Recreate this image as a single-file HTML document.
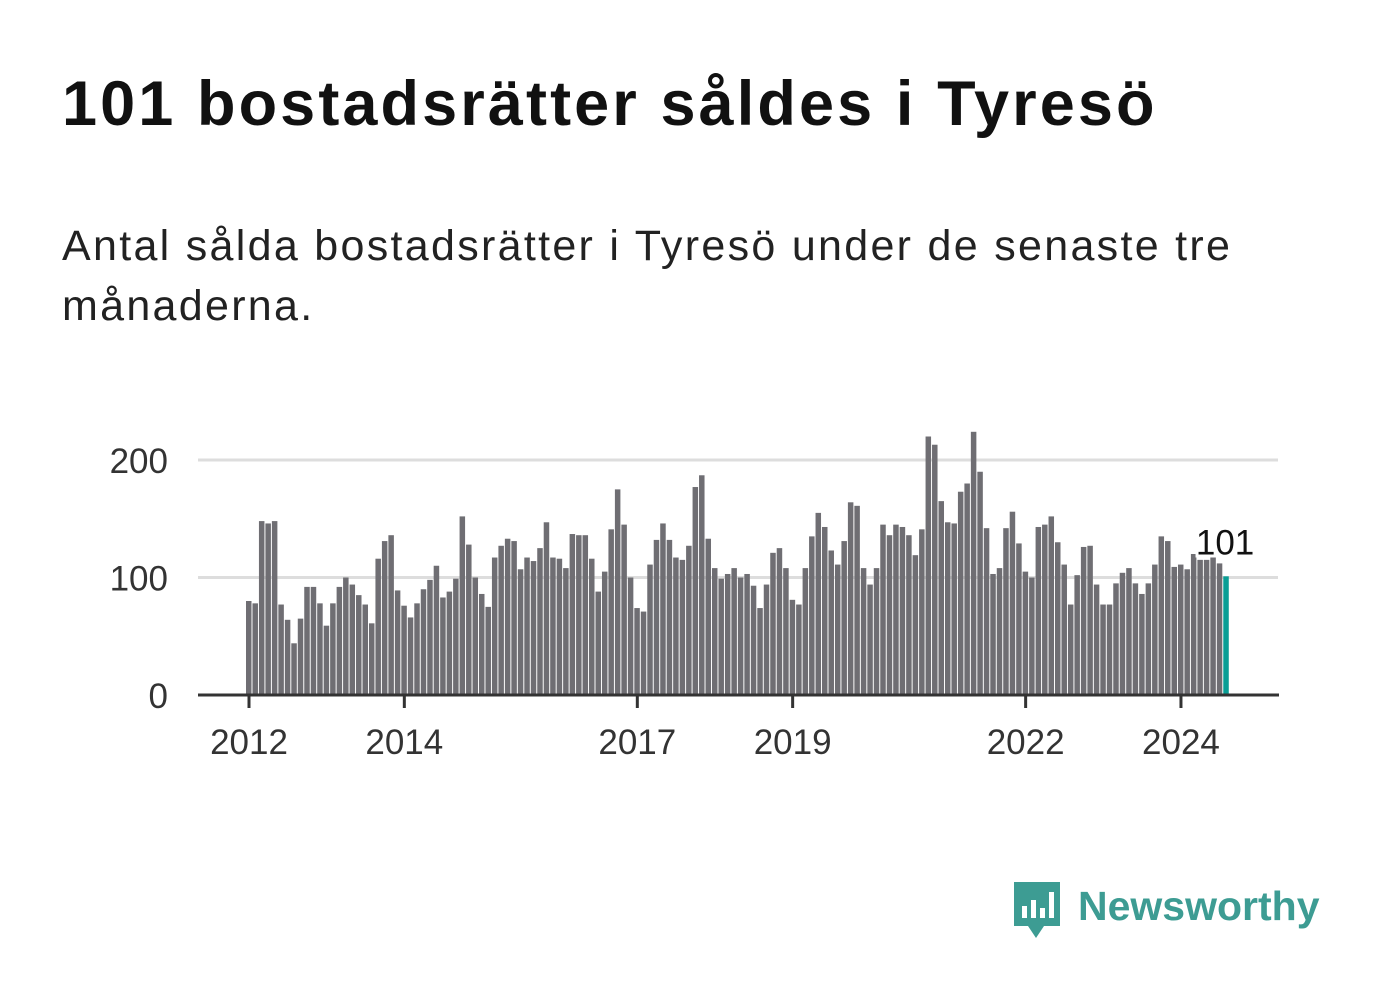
<!DOCTYPE html>
<html><head><meta charset="utf-8"><style>
body{margin:0;width:1382px;height:999px;background:#fff;font-family:"Liberation Sans","DejaVu Sans",sans-serif;overflow:hidden;position:relative}
h1{position:absolute;left:62px;top:68px;margin:0;font-size:63px;font-weight:bold;color:#111;letter-spacing:3.1px;white-space:nowrap}
p{position:absolute;left:62px;top:216px;margin:0;font-size:43px;line-height:60px;color:#222;width:1260px;letter-spacing:2.3px}
</style></head><body>
<h1>101 bostadsrätter såldes i Tyresö</h1>
<p>Antal sålda bostadsrätter i Tyresö under de senaste tre månaderna.</p>
<svg id="chart" width="1382" height="999" style="position:absolute;left:0;top:0"></svg>
<div style="position:absolute;left:1012px;top:880px;display:flex;align-items:center">
<svg width="50" height="60" viewBox="0 0 50 60"><path d="M2 2h46v44H32l-8 12-8-12H2z" fill="#3d9c93"/><rect x="10" y="26" width="5" height="12" fill="#fff"/><rect x="19" y="20" width="5" height="18" fill="#fff"/><rect x="28" y="28" width="5" height="10" fill="#fff"/><rect x="37" y="12" width="5" height="26" fill="#fff"/></svg>
<span style="font-size:41px;font-weight:bold;color:#3d9c93;margin-left:16px;margin-top:-8px">Newsworthy</span></div>
<script>
const values=[80,78,148,146,148,77,64,44,65,92,92,78,
59,78,92,100,94,85,77,61,116,131,136,89,
76,66,78,90,98,110,83,88,99,152,128,100,
86,75,117,127,133,131,107,117,114,125,147,117,
116,108,137,136,136,116,88,105,141,175,145,100,
74,71,111,132,146,132,117,115,127,177,187,133,
108,99,103,108,100,103,93,74,94,121,125,108,
81,77,108,135,155,143,123,111,131,164,161,108,
94,108,145,136,145,143,136,119,141,220,213,165,
147,146,173,180,224,190,142,103,108,142,156,129,
105,100,143,145,152,130,111,77,102,126,127,94,
77,77,95,104,108,95,86,95,111,135,131,109,
111,107,120,115,115,119,112,101];
const yTicks=[0,100,200];
const xTickLabels=["2012","2014","2017","2019","2022","2024"];
const xTickIndex=[0,24,60,84,120,144];
const NS="http://www.w3.org/2000/svg",svg=document.getElementById('chart');
const x=i=>249+i*6.472, y=v=>695-v*1.175;
function mk(t,a){const e=document.createElementNS(NS,t);for(const k in a)e.setAttribute(k,a[k]);svg.appendChild(e);return e;}
yTicks.forEach(v=>{
 if(v>0){const g=mk('line',{x1:198,x2:1278,y1:y(v),y2:y(v),stroke:'#ddd','stroke-width':3});
 
 }
 const t=mk('text',{x:168,y:y(v)+13,'text-anchor':'end','font-size':35,fill:'#333'});t.textContent=v;
 
 
});
values.forEach((v,i)=>{
 const r=mk('rect',{x:x(i)-3,y:y(v),width:5.5,height:v*1.175,fill:i==values.length-1?'#0a9e95':'#6f6e73'});
 
 
});
const ax=mk('line',{x1:198,x2:1279,y1:695,y2:695,stroke:'#333','stroke-width':3});


xTickIndex.forEach((ii,k)=>{
 mk('line',{x1:x(ii),x2:x(ii),y1:695,y2:708,stroke:'#333','stroke-width':3});
 const t=mk('text',{x:x(ii),y:754,'text-anchor':'middle','font-size':35,fill:'#333'});t.textContent=xTickLabels[k];
 
 
});
const last=values.length-1;
const lb=mk('text',{x:x(last)+28,y:y(values[last])-22,'text-anchor':'end','font-size':35,fill:'#111',stroke:'#fff','stroke-width':6,'paint-order':'stroke'});
lb.textContent=values[last];


</script>
</body></html>
